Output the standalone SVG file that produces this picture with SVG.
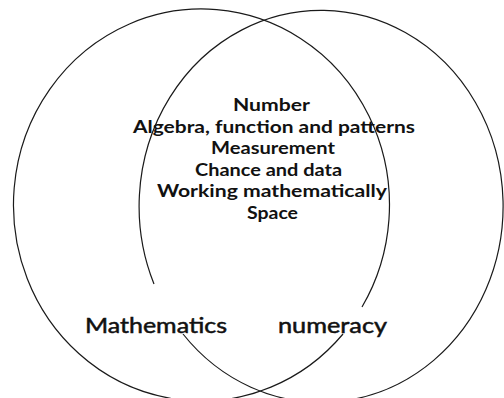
<svg xmlns="http://www.w3.org/2000/svg" width="504" height="398" viewBox="0 0 504 398">
<style>
.ring{fill:none;stroke:#1a1a1a;stroke-width:1.2}
.topic{font-family:Lato,"Liberation Sans",sans-serif;font-weight:700;font-size:16.5px;fill:#111}
.label{font-family:Lato,"Liberation Sans",sans-serif;font-weight:400;font-size:21px;fill:#111;stroke:#111;stroke-width:0.5}
</style>
<rect width="504" height="398" fill="#ffffff"/>
<g id="mathematics">
<path class="ring" d="M 343 334 A 188 196 0 1 1 362 307"/>
<text class="label" x="85" y="333" textLength="142" lengthAdjust="spacingAndGlyphs">Mathematics</text>
</g>
<g id="numeracy">
<path class="ring" d="M 183 334 A 182 196 0 1 0 154 284"/>
<text class="label" x="278" y="333" textLength="109" lengthAdjust="spacingAndGlyphs">numeracy</text>
</g>
<g id="overlap">
<text class="topic" x="233" y="111" textLength="77" lengthAdjust="spacingAndGlyphs">Number</text>
<text class="topic" x="133" y="132.5" textLength="282" lengthAdjust="spacingAndGlyphs">Algebra, function and patterns</text>
<text class="topic" x="211" y="154" textLength="124" lengthAdjust="spacingAndGlyphs">Measurement</text>
<text class="topic" x="195" y="175.8" textLength="147" lengthAdjust="spacingAndGlyphs">Chance and data</text>
<text class="topic" x="157" y="197.4" textLength="230" lengthAdjust="spacingAndGlyphs">Working mathematically</text>
<text class="topic" x="247" y="219" textLength="51" lengthAdjust="spacingAndGlyphs">Space</text>
</g>
</svg>
